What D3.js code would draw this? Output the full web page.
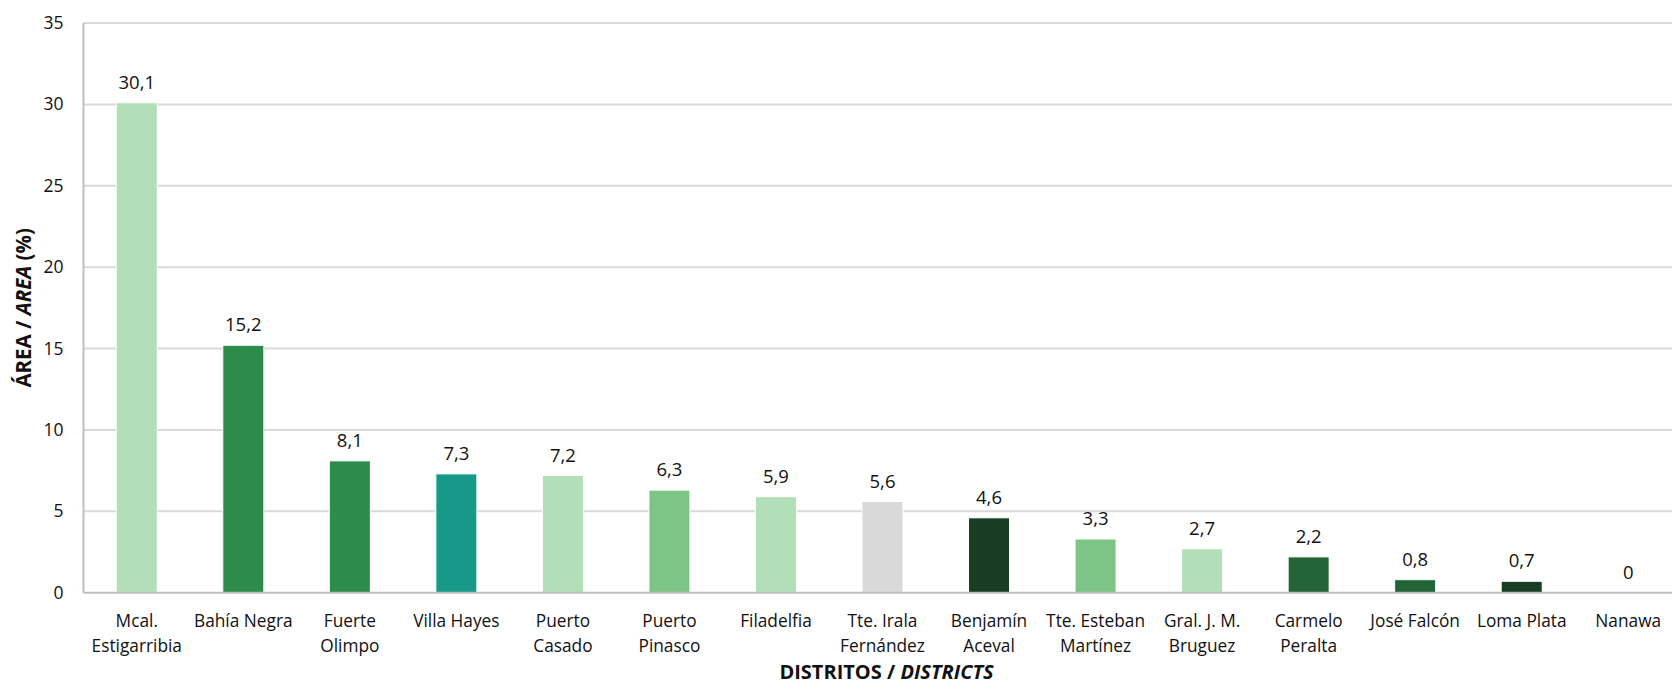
<!DOCTYPE html>
<html>
<head>
<meta charset="utf-8">
<script src="https://cdn.jsdelivr.net/npm/d3@7/dist/d3.min.js"></script>
<style>
  html, body { margin: 0; padding: 0; background: #ffffff; }
  svg { display: block; }
  text { font-family: "Open Sans", "Noto Sans", sans-serif; fill: #111111; }
</style>
</head>
<body>
<svg id="chart" width="1672" height="687"></svg>
<script>
// District names (two-line labels split with "\n")
const districts = [
  "Mcal.\nEstigarribia", "Bahía Negra", "Fuerte\nOlimpo", "Villa Hayes",
  "Puerto\nCasado", "Puerto\nPinasco", "Filadelfia", "Tte. Irala\nFernández",
  "Benjamín\nAceval", "Tte. Esteban\nMartínez", "Gral. J. M.\nBruguez",
  "Carmelo\nPeralta", "José Falcón", "Loma Plata", "Nanawa"
];

// Share of area per district (%)
const areaPct = [30.1, 15.2, 8.1, 7.3, 7.2, 6.3, 5.9, 5.6, 4.6, 3.3, 2.7, 2.2, 0.8, 0.7, 0];

// Bar fill per district
const barColors = [
  "#b3dfb8", "#2d8b4b", "#2d8b4b", "#17998a", "#b3dfb8", "#7dc587", "#b3dfb8",
  "#d9d9d9", "#173d22", "#7dc587", "#b3dfb8", "#226436", "#226436", "#173d22", "#226436"
];

// Y axis ticks
const yTicks = [0, 5, 10, 15, 20, 25, 30, 35];

const svg = d3.select("#chart");
const margin = { left: 83.5, top: 23 };
const plotW = 1598, plotH = 569.7;

const g = svg.append("g").attr("transform", `translate(${margin.left},${margin.top})`);

const x = d3.scaleBand()
  .domain(districts)
  .range([0, plotW])
  .paddingInner(0.615)
  .paddingOuter(0.3075);

const y = d3.scaleLinear().domain([0, 35]).range([plotH, 0]);

// Horizontal gridlines
g.append("g")
  .selectAll("line")
  .data(yTicks.filter(d => d > 0))
  .join("line")
  .attr("x1", 0).attr("x2", plotW)
  .attr("y1", d => y(d)).attr("y2", d => y(d))
  .attr("stroke", "#d9d9d9")
  .attr("stroke-width", 2);

// Y axis (labels only, line drawn separately)
const yAxis = g.append("g")
  .call(d3.axisLeft(y).tickValues(yTicks).tickSize(0).tickPadding(20).tickFormat(d3.format("d")));
yAxis.select(".domain").remove();
yAxis.selectAll("text")
  .attr("font-size", 17.5)
  .attr("fill", "#111111")
  .style("font-family", "'Open Sans', sans-serif");

// Bars
g.append("g")
  .selectAll("rect")
  .data(districts)
  .join("rect")
  .attr("x", d => x(d))
  .attr("width", x.bandwidth())
  .attr("y", (d, i) => y(areaPct[i]))
  .attr("height", (d, i) => plotH - y(areaPct[i]))
  .attr("fill", (d, i) => barColors[i])
  .attr("stroke", "#ffffff")
  .attr("stroke-width", 1);

// Axis lines
g.append("line")
  .attr("x1", 0).attr("x2", 0).attr("y1", 0).attr("y2", plotH)
  .attr("stroke", "#bfbfbf").attr("stroke-width", 2);
g.append("line")
  .attr("x1", 0).attr("x2", plotW).attr("y1", plotH).attr("y2", plotH)
  .attr("stroke", "#bfbfbf").attr("stroke-width", 2);

// Value labels
const fmt = v => v === 0 ? "0" : d3.format(".1f")(v).replace(".", ",");
g.append("g")
  .selectAll("text")
  .data(districts)
  .join("text")
  .attr("x", d => x(d) + x.bandwidth() / 2)
  .attr("y", (d, i) => y(areaPct[i]) - 14)
  .attr("text-anchor", "middle")
  .attr("font-size", 18.5)
  .text((d, i) => fmt(areaPct[i]));

// Category labels
const cat = g.append("g")
  .selectAll("text")
  .data(districts)
  .join("text")
  .attr("x", d => x(d) + x.bandwidth() / 2)
  .attr("y", plotH + 34)
  .attr("text-anchor", "middle")
  .attr("font-size", 17.3);
cat.selectAll("tspan")
  .data(d => d.split("\n"))
  .join("tspan")
  .attr("x", function () { return this.parentNode.getAttribute("x"); })
  .attr("dy", (d, i) => i === 0 ? 0 : 25)
  .text(d => d);

// Y axis title
const yTitle = svg.append("text")
  .attr("transform", `translate(31,${margin.top + plotH / 2}) rotate(-90)`)
  .attr("text-anchor", "middle")
  .attr("font-size", 20.5)
  .attr("font-weight", "bold");
yTitle.append("tspan").text("ÁREA / ");
yTitle.append("tspan").attr("font-style", "italic").text("AREA");
yTitle.append("tspan").text(" (%)");

// X axis title
const xTitle = svg.append("text")
  .attr("x", margin.left + plotW / 2 + 4)
  .attr("y", 679)
  .attr("text-anchor", "middle")
  .attr("font-size", 20)
  .attr("font-weight", "bold");
xTitle.append("tspan").text("DISTRITOS / ");
xTitle.append("tspan").attr("font-style", "italic").text("DISTRICTS");
</script>
</body>
</html>
